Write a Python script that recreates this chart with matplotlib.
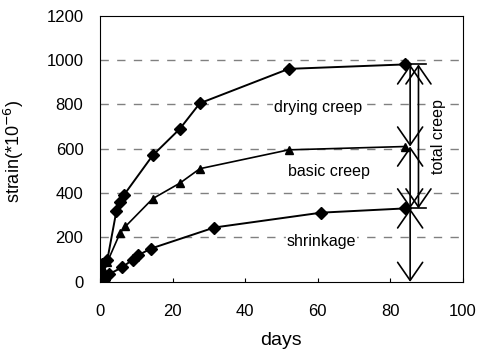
import matplotlib
matplotlib.use("Agg")
import matplotlib.pyplot as plt

plt.rcParams['font.family'] = ['Liberation Sans', 'DejaVu Sans']

# measured strain (x 10^-6) against age in days
days_dry = [0, 0.5, 2, 4.5, 5.5, 6.5, 14.5, 22, 27.5, 52, 84]
drying = [0, 80, 100, 320, 360, 390, 570, 690, 805, 960, 980]

days_basic = [0, 1, 2, 5.5, 7, 14.5, 22, 27.5, 52, 84]
basic = [0, 50, 90, 220, 250, 375, 445, 510, 595, 610]

days_shr = [0, 1, 2.5, 6, 9, 10.5, 14, 31.5, 61, 84]
shrinkage = [0, 10, 35, 65, 100, 120, 150, 245, 312, 331]

yticks = [0, 200, 400, 600, 800, 1000, 1200]
xticks = [0, 20, 40, 60, 80, 100]

fig = plt.figure(figsize=(4.79, 3.55), dpi=100)
ax = fig.add_axes([0.209, 0.206, 0.757, 0.750])

for y in yticks[1:-1]:
    ax.axhline(y, color='#808080', lw=1.0, ls=(0, (6, 6)), zorder=1)

ax.plot(days_dry, drying, color='black', lw=1.4, marker='D', ms=6, zorder=3)
ax.plot(days_basic, basic, color='black', lw=1.2, marker='^', ms=6, zorder=3)
ax.plot(days_shr, shrinkage, color='black', lw=1.4, marker='D', ms=6, zorder=3)

# component bars at the final reading
end_total = drying[-1]
end_basic = basic[-1]
end_shr = shrinkage[-1]
x_bar = 85.5
x_total = 87.8
ax.plot([days_dry[-1], 90], [end_total, end_total], color='black', lw=1.2, zorder=3)
ax.plot([days_shr[-1], 90], [end_shr, end_shr], color='black', lw=1.2, zorder=3)

arrow = dict(arrowstyle='<->,head_length=0.65,head_width=0.45', mutation_scale=20,
             color='black', lw=1.2, shrinkA=0, shrinkB=0)
for (x, y0, y1) in [(x_bar, 0, end_shr), (x_bar, end_shr, end_basic),
                    (x_bar, end_basic, end_total), (x_total, end_shr, end_total)]:
    ax.annotate('', xy=(x, y0), xytext=(x, y1), arrowprops=arrow,
                annotation_clip=False, zorder=4)

bg = dict(facecolor='white', edgecolor='none', pad=0.5)
ax.text(60, 788, 'drying creep', fontsize=11.5, ha='center', va='center', bbox=bg, zorder=2)
ax.text(63, 499, 'basic creep', fontsize=11.5, ha='center', va='center', bbox=bg, zorder=2)
ax.text(61, 180, 'shrinkage', fontsize=11.5, ha='center', va='center', bbox=bg, zorder=2)
ax.text(93.4, 657, 'total creep', fontsize=11.5, ha='center', va='center',
        rotation=90, bbox=bg, zorder=2)

ax.set_xlim(0, 100)
ax.set_ylim(0, 1200)
ax.set_xticks(xticks)
ax.set_yticks(yticks)
ax.tick_params(axis='x', direction='in', length=3, pad=16, labelsize=12)
ax.tick_params(axis='y', direction='in', length=0, pad=12, labelsize=12)
for s in ax.spines.values():
    s.set_linewidth(0.8)

ax.set_xlabel('days', fontsize=14)
ax.set_ylabel('strain(*10$^{-6}$)', fontsize=13)
ax.xaxis.set_label_coords(0.5, -0.19)
ax.yaxis.set_label_coords(-0.205, 0.49)

fig.savefig('out.png', dpi=100)
